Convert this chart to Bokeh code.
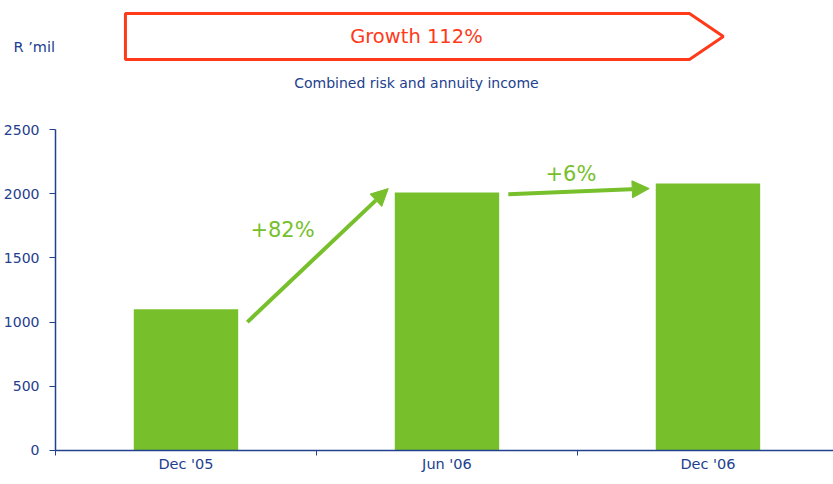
from bokeh.plotting import figure
from bokeh.models import (Range1d, FixedTicker, Arrow, NormalHead, Label, PolyAnnotation,
                          ColumnDataSource)
from bokeh.embed import file_html
from bokeh.resources import INLINE

# ---- data ----
categories = ["Dec '05", "Jun '06", "Dec '06"]
income = [1100, 2010, 2080]
growth_labels = ["+82%", "+6%"]
y_ticks = [0, 500, 1000, 1500, 2000, 2500]
unit_label = "R \u2019mil"
subtitle = "Combined risk and annuity income"
headline = "Growth 112%"

# ---- style ----
GREEN = "#77C02C"
BLUE = "#22408E"
RED = "#FF3A1A"
FONT = "DejaVu Sans"
BAR_W = 0.4

p = figure(width=833, height=484, output_backend="svg", toolbar_location=None,
           x_range=Range1d(-0.2107, 2.981), y_range=Range1d(-265, 3505),
           min_border_left=0, min_border_right=0, min_border_top=0, min_border_bottom=0)
p.outline_line_color = None
p.xgrid.grid_line_color = None
p.ygrid.grid_line_color = None
p.background_fill_color = "white"

xs = [i + 0.5 for i in range(len(categories))]
src = ColumnDataSource(dict(x=xs, top=income))
p.vbar(x="x", top="top", width=BAR_W, bottom=0, source=src, fill_color=GREEN, line_color=None)

# y axis (pinned at the start of the category scale)
ya = p.yaxis[0]
ya.fixed_location = 0
ya.ticker = FixedTicker(ticks=y_ticks, minor_ticks=[])
ya.bounds = (0, 2500)
ya.axis_line_color = BLUE
ya.axis_line_width = 1.5
ya.major_tick_line_color = BLUE
ya.major_tick_out = 6
ya.major_tick_in = 0
ya.minor_tick_line_color = None
ya.major_label_text_color = BLUE
ya.major_label_text_font = FONT
ya.major_label_text_font_size = "14px"
ya.major_label_standoff = 10

# x axis (pinned at zero)
xa = p.xaxis[0]
xa.fixed_location = 0
xa.ticker = FixedTicker(ticks=xs, minor_ticks=list(range(len(categories) + 1)))
xa.major_label_overrides = {x: c for x, c in zip(xs, categories)}
xa.bounds = (0, len(categories))
xa.axis_line_color = BLUE
xa.axis_line_width = 1.5
xa.major_tick_line_color = None
xa.major_tick_out = 0
xa.major_tick_in = 0
xa.minor_tick_line_color = BLUE
xa.minor_tick_out = 5
xa.minor_tick_in = 0
xa.major_label_text_color = BLUE
xa.major_label_text_font = FONT
xa.major_label_text_font_size = "14.5px"
xa.major_label_standoff = 1

# growth arrows between bars
start_dy = [-100, -15]
end_dy = [30, -40]
for i in range(len(categories) - 1):
    x0 = xs[i] + BAR_W / 2 + 0.035
    x1 = xs[i + 1] - BAR_W / 2 - 0.025
    y0 = income[i] + start_dy[i]
    y1 = income[i + 1] + end_dy[i]
    p.add_layout(Arrow(end=NormalHead(size=17, fill_color=GREEN, line_color=GREEN, line_width=1),
                       x_start=x0, y_start=y0, x_end=x1, y_end=y1,
                       line_color=GREEN, line_width=4))

p.add_layout(Label(x=0.87, y=1721, text=growth_labels[0], text_align="center",
                   text_baseline="middle", text_color=GREEN, text_font=FONT,
                   text_font_size="21px"))
p.add_layout(Label(x=1.975, y=2150, text=growth_labels[1], text_align="center",
                   text_baseline="middle", text_color=GREEN, text_font=FONT,
                   text_font_size="21px"))

# header decorations
p.add_layout(PolyAnnotation(xs=[0.268, 2.429, 2.559, 2.429, 0.268],
                            ys=[3403, 3403, 3224, 3045, 3045],
                            fill_color=None, fill_alpha=0, line_color=RED,
                            line_alpha=1, line_width=3))
p.add_layout(Label(x=1.383, y=3224, text=headline, text_align="center",
                   text_baseline="middle", text_color=RED, text_font=FONT,
                   text_font_size="19.5px"))
p.add_layout(Label(x=-0.161, y=3139, text=unit_label,
                   text_align="left", text_baseline="middle", text_color=BLUE,
                   text_font=FONT, text_font_size="14.5px"))
p.add_layout(Label(x=1.383, y=2866, text=subtitle, text_align="center",
                   text_baseline="middle", text_color=BLUE, text_font=FONT,
                   text_font_size="14px"))

open("out.html", "w").write(file_html(p, INLINE))
